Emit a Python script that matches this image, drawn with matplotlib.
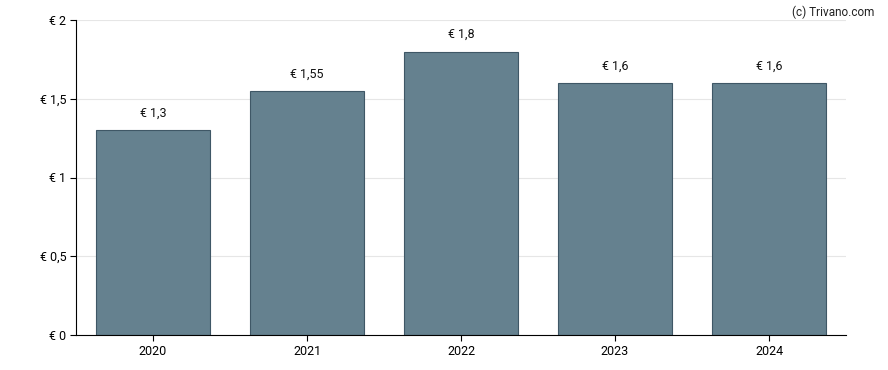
import matplotlib
matplotlib.use("Agg")
import matplotlib.pyplot as plt
from matplotlib.ticker import FuncFormatter

years = ["2020", "2021", "2022", "2023", "2024"]
values = [1.3, 1.55, 1.8, 1.6, 1.6]
labels = ["€ 1,3", "€ 1,55", "€ 1,8", "€ 1,6", "€ 1,6"]
yticks = [0, 0.5, 1, 1.5, 2]

plt.rcParams['font.family'] = ['Roboto', 'DejaVu Sans']

fig = plt.figure(figsize=(8.88, 3.70), dpi=100)
ax = fig.add_axes([76/888, 35/370, 770/888, 315/370])

x = range(len(years))
ax.bar(x, values, width=0.74, color="#65818f", edgecolor="#3f5766", linewidth=0.8, zorder=2)
for xi, v, lab in zip(x, values, labels):
    ax.annotate(lab, (xi, v), xytext=(0, 7.5), textcoords="offset points",
                ha="center", va="bottom", fontsize=9, color="#111111")

ax.set_xlim(-0.5, 4.5)
ax.set_ylim(0, 2)
ax.set_xticks(list(x))
ax.set_xticklabels(years)
ax.set_yticks(yticks)
ax.yaxis.set_major_formatter(FuncFormatter(lambda v, p: "€ " + (f"{v:g}".replace(".", ","))))
ax.grid(axis="y", color="#e6e6e6", linewidth=0.8, zorder=0)
ax.set_axisbelow(True)
for s in ["top", "right"]:
    ax.spines[s].set_visible(False)
ax.spines["left"].set_color("#000000")
ax.spines["bottom"].set_color("#000000")
ax.tick_params(axis="both", labelsize=9, colors="#000000", length=4)
ax.tick_params(axis="y", pad=3)

fig.text(0.985, 0.985, "(c) Trivano.com", ha="right", va="top", fontsize=8.5, color="#222222")

fig.savefig("out.png", dpi=100)
